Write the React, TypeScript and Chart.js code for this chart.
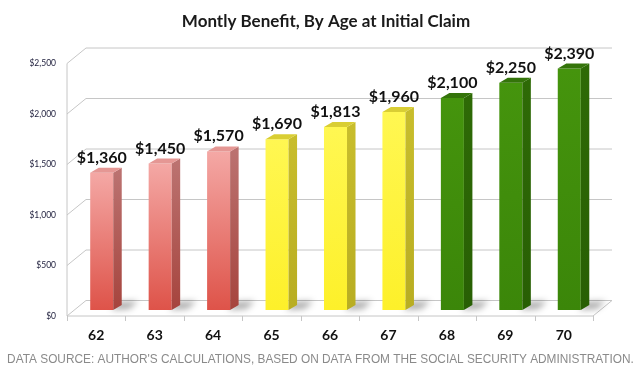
import React, { useEffect, useRef } from 'react';
import { Chart, registerables } from 'chart.js';

Chart.register(...registerables);

// ---- data ----
const ages = ['62', '63', '64', '65', '66', '67', '68', '69', '70'];
const monthlyBenefit = [1360, 1450, 1570, 1690, 1813, 1960, 2100, 2250, 2390];
const claimTier = ['early', 'early', 'early', 'full', 'full', 'full', 'delayed', 'delayed', 'delayed'];
const yTickValues = [0, 500, 1000, 1500, 2000, 2500];
const chartTitle = 'Montly Benefit, By Age at Initial Claim';
const sourceNote = "DATA SOURCE: AUTHOR'S CALCULATIONS, BASED ON DATA FROM THE SOCIAL SECURITY ADMINISTRATION.";

// ---- styles ----
const palette: Record<string, { top: string; bottom: string; sideTop: string; side: string; cap: string }> = {
  early: { top: '#f4a8a5', bottom: '#de5349', sideTop: '#bb7270', side: '#a6443d', cap: '#e59794' },
  full: { top: '#fff752', bottom: '#fdf02a', sideTop: '#c8bd2c', side: '#b8ad22', cap: '#d9ce34' },
  delayed: { top: '#45940d', bottom: '#3b8609', sideTop: '#2e6a06', side: '#285f04', cap: '#34740a' },
};
const FRONT = { dx: -5.5, dy: 6 };
const BACK = { dx: 13.5, dy: -9.5 };
const DEPTH = { dx: 8.5, dy: -5 };
const GRID = '#c6c6c6';
const fmt = (v: number) => '$' + Number(v).toLocaleString('en-US');

const frame3d = {
  id: 'frame3d',
  beforeDatasetsDraw(chart: any) {
    const { ctx, chartArea: a, scales } = chart;
    const x = scales.x;
    const y = scales.y;
    ctx.save();
    ctx.strokeStyle = GRID;
    ctx.lineWidth = 1;
    // back wall grid lines with left-side diagonals
    y.ticks.forEach((t: any) => {
      const py = y.getPixelForValue(t.value);
      ctx.beginPath();
      ctx.moveTo(a.left + FRONT.dx, py + FRONT.dy);
      ctx.lineTo(a.left + BACK.dx, py + BACK.dy);
      ctx.lineTo(a.right + BACK.dx, py + BACK.dy);
      ctx.stroke();
    });
    const y0 = y.getPixelForValue(0);
    const yTop = y.getPixelForValue(y.max);
    // floor front + right edge
    ctx.beginPath();
    ctx.moveTo(a.left + FRONT.dx, y0 + FRONT.dy);
    ctx.lineTo(a.right + FRONT.dx, y0 + FRONT.dy);
    ctx.lineTo(a.right + BACK.dx, y0 + BACK.dy);
    ctx.stroke();
    // y axis line
    ctx.beginPath();
    ctx.moveTo(a.left + FRONT.dx, yTop + FRONT.dy);
    ctx.lineTo(a.left + FRONT.dx, y0 + FRONT.dy);
    ctx.stroke();
    // x tick marks at category boundaries
    for (let i = 0; i <= ages.length; i++) {
      const px = Math.round(x.getPixelForValue(i - 0.5) + FRONT.dx) + 0.5;
      ctx.beginPath();
      ctx.moveTo(px, y0 + FRONT.dy);
      ctx.lineTo(px, y0 + FRONT.dy + 5);
      ctx.stroke();
    }
    // soft floor shadows behind bars
    const meta = chart.getDatasetMeta(0);
    ctx.filter = 'blur(3px)';
    ctx.fillStyle = 'rgba(0,0,0,0.32)';
    meta.data.forEach((bar: any) => {
      const r = bar.x + bar.width / 2;
      const b = bar.base;
      ctx.beginPath();
      ctx.moveTo(r - 2, b);
      ctx.lineTo(r + 16, b - 1);
      ctx.lineTo(r + 25, b - 9);
      ctx.lineTo(r + 4, b - 8);
      ctx.closePath();
      ctx.fill();
    });
    ctx.filter = 'none';
    ctx.restore();
  },
  afterDatasetsDraw(chart: any) {
    const { ctx } = chart;
    const meta = chart.getDatasetMeta(0);
    ctx.save();
    meta.data.forEach((bar: any, i: number) => {
      const p = palette[claimTier[i]];
      const l = bar.x - bar.width / 2;
      const r = bar.x + bar.width / 2;
      const t = bar.y;
      const b = bar.base;
      // side face
      const sg = ctx.createLinearGradient(0, t, 0, b);
      sg.addColorStop(0, p.sideTop);
      sg.addColorStop(1, p.side);
      ctx.fillStyle = sg;
      ctx.beginPath();
      ctx.moveTo(r, t);
      ctx.lineTo(r + DEPTH.dx, t + DEPTH.dy);
      ctx.lineTo(r + DEPTH.dx, b + DEPTH.dy);
      ctx.lineTo(r, b);
      ctx.closePath();
      ctx.fill();
      // top face
      ctx.fillStyle = p.cap;
      ctx.beginPath();
      ctx.moveTo(l, t);
      ctx.lineTo(l + DEPTH.dx, t + DEPTH.dy);
      ctx.lineTo(r + DEPTH.dx, t + DEPTH.dy);
      ctx.lineTo(r, t);
      ctx.closePath();
      ctx.fill();
      // value label
      ctx.fillStyle = '#111111';
      ctx.font = 'bold 16px Lato';
      ctx.textAlign = 'center';
      ctx.textBaseline = 'alphabetic';
      ctx.fillText(fmt(monthlyBenefit[i]), bar.x, t - 10);
    });
    ctx.restore();
  },
  afterDraw(chart: any) {
    const { ctx } = chart;
    ctx.save();
    ctx.fillStyle = '#8a8a8a';
    ctx.font = '11.85px "Liberation Sans"';
    ctx.textAlign = 'center';
    ctx.textBaseline = 'middle';
    ctx.fillText(sourceNote, 320.5, 360);
    ctx.restore();
  },
};

export default function App() {
  const ref = useRef<HTMLCanvasElement | null>(null);
  useEffect(() => {
    if (!ref.current) return;
    const chart = new Chart(ref.current, {
      type: 'bar',
      data: {
        labels: ages,
        datasets: [
          {
            data: monthlyBenefit,
            borderWidth: 0,
            categoryPercentage: 1,
            barPercentage: 0.394,
            backgroundColor: (c: any) => {
              const p = palette[claimTier[c.dataIndex]] || palette.early;
              const ch = c.chart;
              const ys = ch.scales && ch.scales.y;
              if (!ys || !ch.chartArea) return p.bottom;
              const top = ys.getPixelForValue(monthlyBenefit[c.dataIndex]);
              const base = ys.getPixelForValue(0);
              const g = ch.ctx.createLinearGradient(0, top, 0, base);
              g.addColorStop(0, p.top);
              g.addColorStop(1, p.bottom);
              return g;
            },
          },
        ],
      },
      options: {
        responsive: false,
        animation: false,
        devicePixelRatio: 1,
        layout: { padding: { left: 12, right: 0, top: 0, bottom: 28.6 } },
        plugins: {
          legend: { display: false },
          tooltip: { enabled: false },
          title: {
            display: true,
            text: chartTitle,
            color: '#1a1a1a',
            font: { family: 'Lato', weight: 'bold', size: 17 },
            padding: { top: 11.3, bottom: 25.8 },
          },
        },
        scales: {
          x: {
            grid: { display: false, drawTicks: false },
            border: { display: false },
            ticks: {
              color: '#111111',
              font: { family: 'Lato', weight: 'bold', size: 14 },
              padding: 17,
              labelOffset: FRONT.dx,
              maxRotation: 0,
            },
            afterFit: (s: any) => {
              s.height = 37.4;
            },
          },
          y: {
            min: 0,
            max: 2500,
            grid: { display: false, drawTicks: false },
            border: { display: false },
            afterBuildTicks: (s: any) => {
              s.ticks = yTickValues.map((v) => ({ value: v }));
            },
            ticks: {
              color: '#1c1c3a',
              font: { family: 'Lato', size: 8.5 },
              padding: 16.5,
              labelOffset: FRONT.dy,
              callback: (v: any) => fmt(v),
            },
            afterFit: (s: any) => {
              s.width = 60.5;
            },
          },
          yRight: {
            type: 'linear',
            position: 'right',
            display: true,
            grid: { display: false, drawTicks: false },
            border: { display: false },
            ticks: { display: false },
            afterFit: (s: any) => {
              s.width = 41.5;
            },
          },
        },
      },
      plugins: [frame3d],
    } as any);
    return () => chart.destroy();
  }, []);
  return (
    <div style={{ position: 'fixed', left: 0, top: 0, width: 640, height: 376, background: '#ffffff' }}>
      <canvas ref={ref} width={640} height={376} style={{ display: 'block', width: 640, height: 376 }} />
    </div>
  );
}
